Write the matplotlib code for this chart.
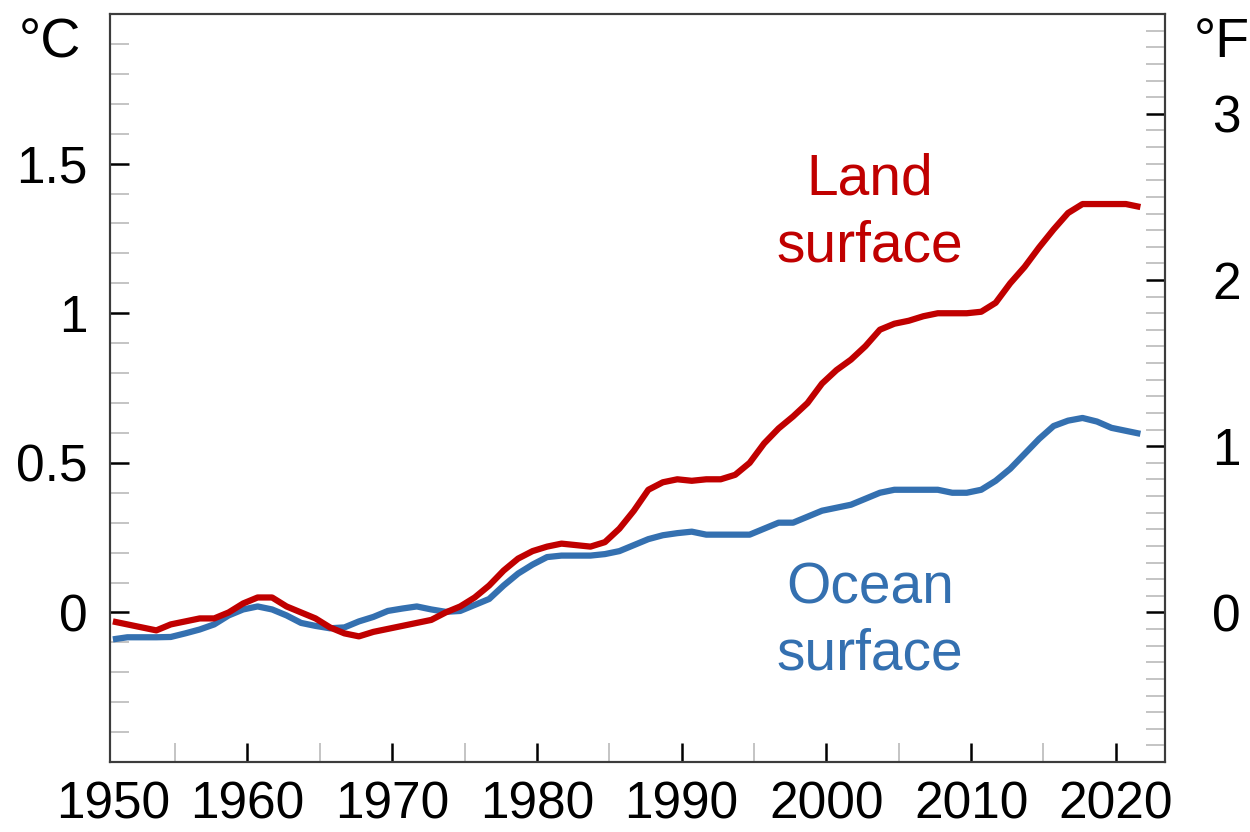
import numpy as np
import matplotlib
matplotlib.use("Agg")
import matplotlib.pyplot as plt
from matplotlib.ticker import MultipleLocator, FixedLocator

plt.rcParams['font.family'] = ['Liberation Sans', 'DejaVu Sans']

# yearly temperature change, °C
years = np.arange(1950, 2022)
land = [-0.03, -0.04, -0.05, -0.06, -0.04, -0.03, -0.02, -0.02, 0.00, 0.03,
        0.05, 0.05, 0.02, 0.00, -0.02, -0.05, -0.07, -0.08, -0.065, -0.055,
        -0.045, -0.035, -0.025, 0.00, 0.02, 0.05, 0.09, 0.14, 0.18, 0.205,
        0.22, 0.23, 0.225, 0.22, 0.235, 0.28, 0.34, 0.41, 0.435, 0.445,
        0.44, 0.445, 0.445, 0.46, 0.50, 0.565, 0.615, 0.655, 0.70, 0.765,
        0.81, 0.845, 0.89, 0.945, 0.965, 0.975, 0.99, 1.0, 1.0, 1.0,
        1.005, 1.035, 1.10, 1.155, 1.22, 1.28, 1.335, 1.365, 1.365, 1.365,
        1.365, 1.355]
ocean = [-0.09, -0.083, -0.083, -0.083, -0.082, -0.07, -0.057, -0.04, -0.01, 0.01,
         0.02, 0.01, -0.01, -0.035, -0.045, -0.053, -0.05, -0.03, -0.015, 0.005,
         0.013, 0.02, 0.01, 0.002, 0.005, 0.025, 0.045, 0.09, 0.13, 0.16,
         0.185, 0.19, 0.19, 0.19, 0.195, 0.205, 0.225, 0.245, 0.258, 0.265,
         0.27, 0.26, 0.26, 0.26, 0.26, 0.28, 0.30, 0.30, 0.32, 0.34,
         0.35, 0.36, 0.38, 0.40, 0.41, 0.41, 0.41, 0.41, 0.40, 0.40,
         0.41, 0.44, 0.48, 0.53, 0.58, 0.623, 0.641, 0.65, 0.638, 0.617,
         0.607, 0.597]

RED = '#c00000'
BLUE = '#3470b0'
SPINE = '#3c3c3c'
MINOR = '#b4b4b4'
LABEL_PAD = 13

fig = plt.figure(figsize=(12.5, 8.32), dpi=100)
ax = fig.add_axes([0.088, 0.0841, 0.844, 0.899])

x = years + 0.7
ax.plot(x, ocean, color=BLUE, lw=4.5, solid_joinstyle='round', solid_capstyle='butt')
ax.plot(x, land, color=RED, lw=4.5, solid_joinstyle='round', solid_capstyle='butt')

ax.set_xticks(np.arange(1960, 2021, 10))
ax.xaxis.set_minor_locator(FixedLocator(np.arange(1955, 2021, 10)))
ax.set_yticks([0, 0.5, 1, 1.5], ['0', '0.5', '1', '1.5'])
ax.yaxis.set_minor_locator(MultipleLocator(0.1))
ax.set_xlim(1950.5, 2023.4)
ax.set_ylim(-0.5, 2.0)

ax.tick_params(which='major', direction='in', length=14, width=1.8,
               color='black', labelsize=37)
ax.tick_params(which='minor', direction='in', length=14, width=1.1, color=MINOR)
ax.tick_params(axis='x', which='major', pad=LABEL_PAD)
ax.tick_params(axis='y', which='major', pad=16)

# 1950 falls just left of the frame, so its label goes under the corner
ax.annotate('1950', xy=(1950.7, 0), xycoords=('data', 'axes fraction'),
            xytext=(0, -LABEL_PAD), textcoords='offset points',
            ha='center', va='top', fontsize=37)

# Fahrenheit scale on the right
ax2 = ax.twinx()
ax2.set_ylim(-0.5 * 1.8, 2.0 * 1.8)
ax2.yaxis.set_major_locator(FixedLocator([0, 1, 2, 3]))
ax2.yaxis.set_minor_locator(MultipleLocator(0.1))
ax2.set_yticklabels(['0', '1', '2', '3'])
ax2.tick_params(which='major', direction='in', length=14, width=1.8,
                color='black', labelsize=37, pad=34)
ax2.tick_params(which='minor', direction='in', length=14, width=1.1, color=MINOR)

for a in (ax, ax2):
    for s in a.spines.values():
        s.set_color(SPINE)
        s.set_linewidth(1.5)

fig.text(50 / 1250, (832 - 57) / 832, '°C', ha='center', va='baseline', fontsize=40)
fig.text(1222 / 1250, (832 - 57) / 832, '°F', ha='center', va='baseline', fontsize=40)

ax.text(2003.0, 1.335, 'Land\nsurface', color=RED, fontsize=41,
        ha='center', va='center', linespacing=1.3)
ax.text(2003.0, -0.03, 'Ocean\nsurface', color=BLUE, fontsize=41,
        ha='center', va='center', linespacing=1.3)

fig.savefig('out.png', dpi=100)
